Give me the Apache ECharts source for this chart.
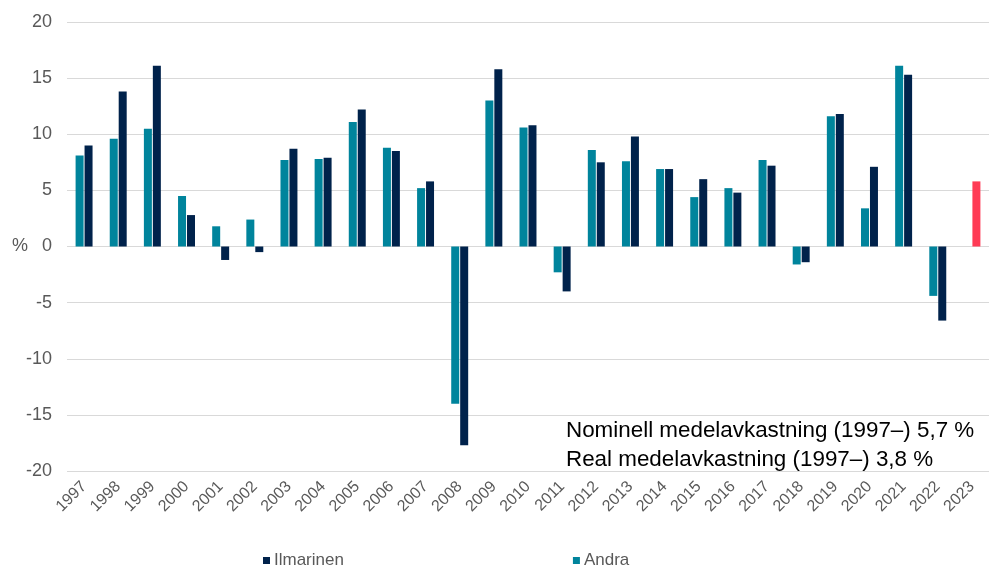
<!DOCTYPE html>
<html>
<head>
<meta charset="utf-8">
<script src="https://cdn.jsdelivr.net/npm/echarts@6/dist/echarts.min.js"></script>
<style>html,body{margin:0;padding:0;background:#fff;}#c{width:1005px;height:568px;}</style>
</head>
<body>
<div id="c"></div>
<script>
const years = ['1997','1998','1999','2000','2001','2002','2003','2004','2005','2006','2007','2008','2009','2010','2011','2012','2013','2014','2015','2016','2017','2018','2019','2020','2021','2022','2023'];
const andra = [8.1, 9.6, 10.5, 4.5, 1.8, 2.4, 7.7, 7.8, 11.1, 8.8, 5.2, -14.0, 13.0, 10.6, -2.3, 8.6, 7.6, 6.9, 4.4, 5.2, 7.7, -1.6, 11.6, 3.4, 16.1, -4.4, null];
const ilmarinen = [9.0, 13.8, 16.1, 2.8, -1.2, -0.5, 8.7, 7.9, 12.2, 8.5, 5.8, -17.7, 15.8, 10.8, -4.0, 7.5, 9.8, 6.9, 6.0, 4.8, 7.2, -1.4, 11.8, 7.1, 15.3, -6.6, 5.8];
const highlightYear = '2023';
const annotationLines = ['Nominell medelavkastning (1997–) 5,7 %', 'Real medelavkastning (1997–) 3,8 %'];

const TEAL = '#00849C', NAVY = '#00224B', RED = '#FF3B55', GREY = '#595959';
const FONT = '"Liberation Sans", Arial, sans-serif';

const chart = echarts.init(document.getElementById('c'), null, {renderer: 'canvas'});
chart.setOption({
  animation: false,
  backgroundColor: '#fff',
  grid: {left: 67, right: 16, top: 22, bottom: 97, containLabel: false},
  legend: {
    data: ['Ilmarinen', 'Andra'],
    left: 258, top: 547,
    itemWidth: 7, itemHeight: 7, itemGap: 229,
    icon: 'rect',
    textStyle: {color: GREY, fontSize: 17, fontFamily: FONT, padding: [0, 0, 0, -1]}
  },
  xAxis: {
    type: 'category',
    data: years,
    axisLine: {show: false, onZero: false},
    axisTick: {show: false},
    axisLabel: {rotate: 45, color: GREY, fontSize: 16, fontFamily: FONT, margin: 13, interval: 0}
  },
  yAxis: {
    type: 'value',
    min: -20, max: 20, interval: 5,
    axisLine: {show: false},
    axisTick: {show: false},
    splitLine: {lineStyle: {color: '#D9D9D9', width: 1}},
    axisLabel: {color: GREY, fontSize: 18, fontFamily: FONT, margin: 15}
  },
  series: [
    {
      name: 'Andra', type: 'bar', data: andra,
      barWidth: 8, barGap: '12%',
      itemStyle: {color: TEAL}
    },
    {
      name: 'Ilmarinen', type: 'bar', data: ilmarinen.map((v, i) => years[i] === highlightYear ? {value: v, itemStyle: {color: RED}} : v),
      barWidth: 8, barGap: '12%',
      itemStyle: {color: NAVY}
    }
  ],
  graphic: [
    {type: 'text', left: 12, top: 237, style: {text: '%', fill: GREY, font: '18px ' + FONT}},
    {type: 'text', left: 566, top: 416, style: {text: annotationLines.join('\n'), fill: '#000', font: '22.4px ' + FONT, lineHeight: 29}}
  ]
});
</script>
</body>
</html>
